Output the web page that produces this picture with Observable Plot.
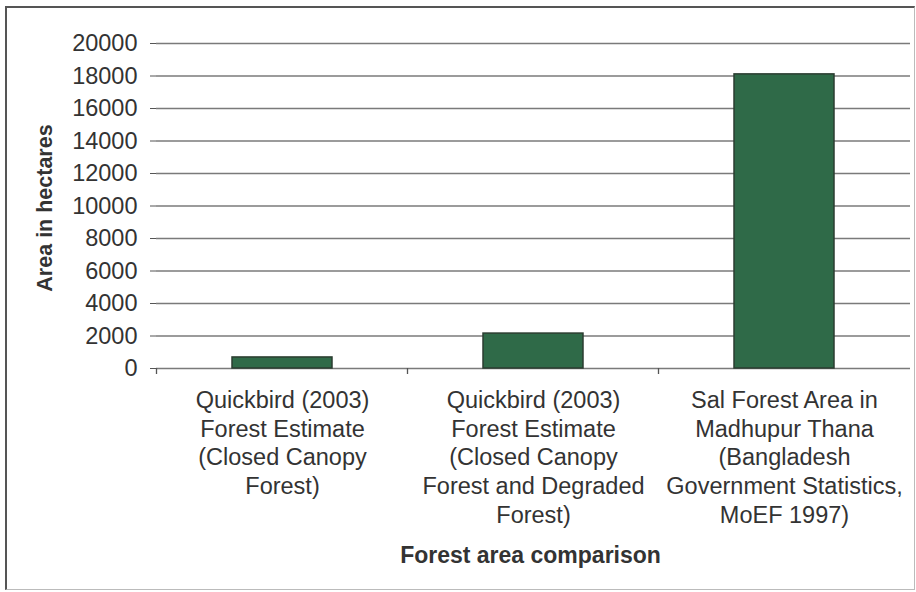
<!DOCTYPE html>
<html>
<head>
<meta charset="utf-8">
<script src="https://cdn.jsdelivr.net/npm/d3@7"></script>
<script src="https://cdn.jsdelivr.net/npm/@observablehq/plot@0.6"></script>
<style>
  html, body { margin: 0; padding: 0; background: #ffffff; }
  #wrap { position: relative; width: 916px; height: 592px; overflow: hidden; }
  #border { position: absolute; left: 5px; top: 6px; width: 910px; height: 584px;
            border-left: 2px solid #555; border-top: 2px solid #555;
            border-right: 1px solid #bbb; border-bottom: 1px solid #bbb; box-sizing: border-box; pointer-events: none; }
  svg { font-family: "Liberation Sans", Arial, sans-serif; }
</style>
</head>
<body>
<div id="wrap"><div id="border"></div></div>
<script>
const categories = [
  "Quickbird (2003)\nForest Estimate\n(Closed Canopy\nForest)",
  "Quickbird (2003)\nForest Estimate\n(Closed Canopy\nForest and Degraded\nForest)",
  "Sal Forest Area in\nMadhupur Thana\n(Bangladesh\nGovernment Statistics,\nMoEF 1997)"
];
const areas = [680, 2150, 18100];
const yTicks = [0, 2000, 4000, 6000, 8000, 10000, 12000, 14000, 16000, 18000, 20000];
const yLabel = "Area in hectares";
const xTitle = "Forest area comparison";

const data = categories.map((c, i) => ({category: c, area: areas[i]}));

const textColor = "#333";
const chart = Plot.plot({
  width: 916,
  height: 592,
  marginLeft: 156,
  marginRight: 6,
  marginTop: 43,
  marginBottom: 224,
  style: {background: "transparent", color: textColor, fontSize: "23px", fontFamily: "'Liberation Sans', Arial, sans-serif"},
  x: {domain: categories, paddingInner: 0.6, paddingOuter: 0.3},
  y: {domain: [0, 20000]},
  marks: [
    Plot.ruleY(yTicks, {stroke: "#7a7a7a", strokeWidth: 1.3}),
    Plot.ruleX([0], {frameAnchor: "right", stroke: "#7a7a7a", strokeWidth: 1.3, y1: 0, y2: 20000}),
    Plot.barY(data, {x: "category", y: "area", fill: "#2f6a48", stroke: "#2b3d30", strokeWidth: 1.5}),
    Plot.axisY({ticks: yTicks, tickSize: 6, tickPadding: 13, tickFormat: d => String(d), label: null, stroke: "#555", fontSize: 23.5, fill: textColor}),
    Plot.ruleX([0], {frameAnchor: "left", stroke: "#555", strokeWidth: 1.3, y1: 0, y2: 20000}),
    Plot.axisX({tickSize: 0, tickPadding: 19, label: null, lineHeight: 1.22, fontSize: 23.5, fill: textColor, lineAnchor: "top"}),
    Plot.text([yLabel], {frameAnchor: "left", textAnchor: "middle", dx: -111, dy: 2, rotate: -90, fontSize: 21.5, fontWeight: "bold", fill: textColor}),
    Plot.text([xTitle], {frameAnchor: "bottom", textAnchor: "middle", dx: -3, dy: 194, fontSize: 23, fontWeight: "bold", fill: textColor})
  ]
});

// Excel-style category separator ticks, derived from the band scale
const xs = chart.scale("x");
const ys = chart.scale("y");
const y0 = ys.apply(0);
const bounds = [];
categories.forEach((c, i) => {
  const center = xs.apply(c) + xs.bandwidth / 2;
  if (i === 0) bounds.push(center - xs.step / 2);
  bounds.push(center + xs.step / 2);
});
const svg = d3.select(chart);
svg.append("g").attr("stroke", "#555").attr("stroke-width", 1.3)
  .selectAll("line").data(bounds.slice(0, -1)).join("line")
  .attr("x1", d => d).attr("x2", d => d)
  .attr("y1", y0).attr("y2", y0 + 6);

document.getElementById("wrap").prepend(chart);
</script>
</body>
</html>
